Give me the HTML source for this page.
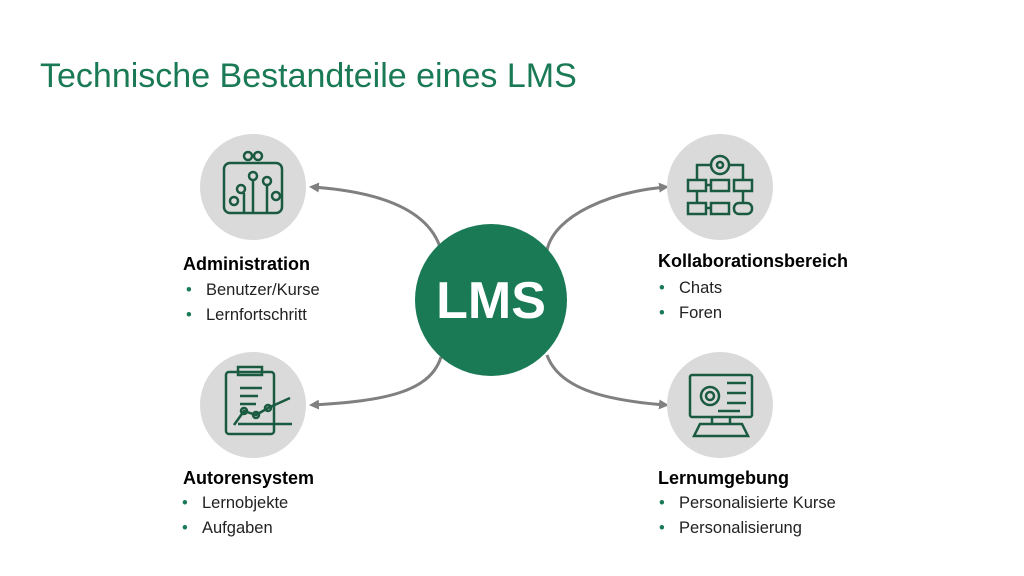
<!DOCTYPE html>
<html><head><meta charset="utf-8"><style>
body{margin:0;width:1024px;height:576px;background:#fff;font-family:"Liberation Sans",sans-serif;overflow:hidden;position:relative}
.t{position:absolute;left:40px;top:57px;font-size:34px;color:#1a7a56}
.h{position:absolute;font-weight:bold;font-size:18px;color:#000}
.b{position:absolute;font-size:16.5px;color:#222}
.b:before{content:"•";color:#1a7a56;position:absolute;left:-20px}
</style></head><body>
<div class="t">Technische Bestandteile eines LMS</div>
<svg width="1024" height="576" style="position:absolute;left:0;top:0">
<defs><marker id="a" markerWidth="10" markerHeight="10" refX="7" refY="5" orient="auto" markerUnits="userSpaceOnUse"><path d="M0,0 L10,5 L0,10 Z" fill="#808080"/></marker></defs>
<g fill="none" stroke="#808080" stroke-width="3">
<path d="M441,250 C430,212 385,192 312,187" marker-end="url(#a)"/>
<path d="M441,357 C430,392 385,401 312,405" marker-end="url(#a)"/>
<path d="M547,250 C555,215 610,192 666,187" marker-end="url(#a)"/>
<path d="M547,355 C560,392 615,401 666,405" marker-end="url(#a)"/>
</g>
<g fill="#dadada"><circle cx="253" cy="187" r="53"/><circle cx="253" cy="405" r="53"/><circle cx="720" cy="187" r="53"/><circle cx="720" cy="405" r="53"/></g>
<circle cx="491" cy="300" r="76" fill="#1a7a56"/>
<text x="491" y="318" text-anchor="middle" font-family="Liberation Sans" font-weight="bold" font-size="52" fill="#fff">LMS</text>
<g fill="none" stroke="#1a5a40" stroke-width="2.5">
<rect x="224" y="163" width="58" height="50" rx="6"/>
<circle cx="248" cy="156" r="4"/><circle cx="258" cy="156" r="4"/>
<circle cx="253" cy="176" r="4"/><line x1="253" y1="180" x2="253" y2="213"/>
<circle cx="267" cy="181" r="4"/><line x1="267" y1="185" x2="267" y2="213"/>
<circle cx="241" cy="189" r="4"/><line x1="244" y1="193" x2="244" y2="213"/>
<circle cx="234" cy="201" r="4"/><circle cx="276" cy="196" r="4"/>
<rect x="226" y="372" width="48" height="62" rx="3"/><rect x="238" y="367" width="24" height="8"/>
<line x1="240" y1="388" x2="262" y2="388"/><line x1="240" y1="396" x2="258" y2="396"/><line x1="240" y1="404" x2="256" y2="404"/>
<polyline points="234,425 244,411 256,415 268,408 290,398"/>
<circle cx="244" cy="411" r="3"/><circle cx="256" cy="415" r="3"/><circle cx="268" cy="408" r="3"/>
<line x1="238" y1="424" x2="292" y2="424"/>
<circle cx="720" cy="165" r="9"/><circle cx="720" cy="165" r="3"/>
<polyline points="711,165 697,165 697,180"/><polyline points="729,165 743,165 743,180"/>
<rect x="688" y="180" width="18" height="11"/><rect x="711" y="180" width="18" height="11"/><rect x="734" y="180" width="18" height="11"/>
<rect x="688" y="203" width="18" height="11"/><rect x="711" y="203" width="18" height="11"/><rect x="734" y="203" width="18" height="11" rx="5"/>
<line x1="697" y1="191" x2="697" y2="203"/><line x1="743" y1="191" x2="743" y2="203"/><line x1="706" y1="185" x2="711" y2="185"/><line x1="706" y1="208" x2="711" y2="208"/>
<rect x="690" y="375" width="62" height="42" rx="2"/>
<circle cx="710" cy="396" r="9"/><circle cx="710" cy="396" r="4"/>
<line x1="727" y1="383" x2="746" y2="383"/><line x1="727" y1="393" x2="746" y2="393"/><line x1="727" y1="403" x2="746" y2="403"/><line x1="718" y1="411" x2="740" y2="411"/>
<line x1="712" y1="417" x2="712" y2="424"/><line x1="730" y1="417" x2="730" y2="424"/>
<polygon points="694,436 700,424 742,424 748,436"/>
</g>
</svg>
<div class="h" style="left:183px;top:254px">Administration</div>
<div class="b" style="left:206px;top:281px">Benutzer/Kurse</div>
<div class="b" style="left:206px;top:306px">Lernfortschritt</div>
<div class="h" style="left:183px;top:468px">Autorensystem</div>
<div class="b" style="left:202px;top:494px">Lernobjekte</div>
<div class="b" style="left:202px;top:519px">Aufgaben</div>
<div class="h" style="left:658px;top:251px">Kollaborationsbereich</div>
<div class="b" style="left:679px;top:279px">Chats</div>
<div class="b" style="left:679px;top:304px">Foren</div>
<div class="h" style="left:658px;top:468px">Lernumgebung</div>
<div class="b" style="left:679px;top:494px">Personalisierte Kurse</div>
<div class="b" style="left:679px;top:519px">Personalisierung</div>
</body></html>
